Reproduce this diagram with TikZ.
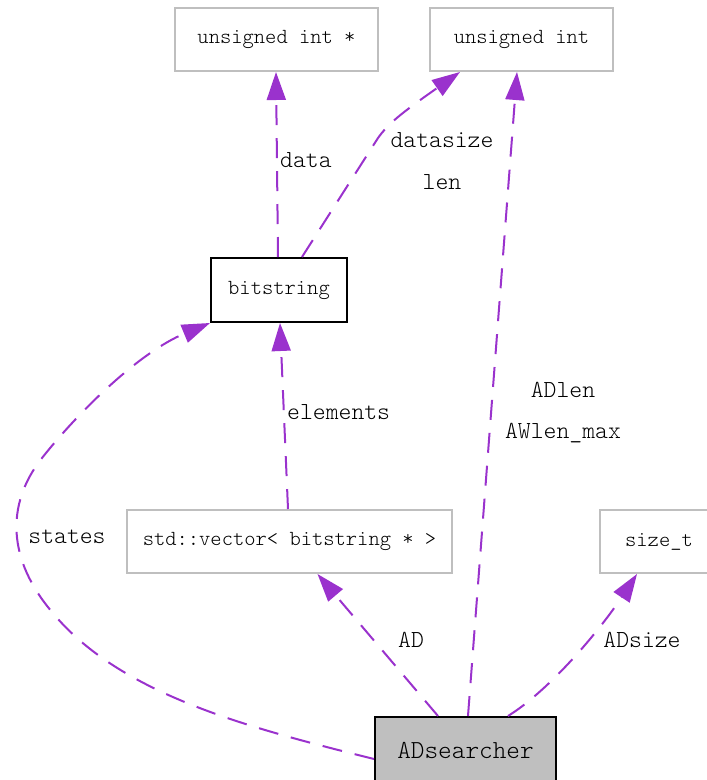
\documentclass[tikz,border=0pt]{standalone}
\usepackage{fontspec}
\newfontfamily\typefont{Latin Modern Mono Light}
\usetikzlibrary{arrows.meta}
\definecolor{edgepurple}{HTML}{9A32CD}
\definecolor{boxgray}{HTML}{BFBFBF}
\tikzset{
  typebox/.style={draw=boxgray, line width=2pt, fill=white, minimum height=63pt,
    inner sep=0pt, font=\typefont\fontsize{21.5}{21.5}\selectfont},
  classbox/.style={typebox, draw=black},
  mainbox/.style={typebox, draw=black, fill=boxgray, font=\typefont\fontsize{26}{26}\selectfont},
  relation/.style={draw=edgepurple, line width=2pt, dash pattern=on 20pt off 13pt,
    -{Triangle[length=28pt,width=19pt]}},
  elabel/.style={inner sep=0pt, font=\typefont\fontsize{24.5}{24.5}\selectfont}
}
\begin{document}
\begin{tikzpicture}[x=1pt,y=-1pt]
\useasboundingbox (0,0) rectangle (707,780);

% class and type boxes
\node[typebox, minimum width=203pt] (uintp) at (276.5,39.5) {unsigned int *};
\node[typebox, minimum width=183pt] (uint) at (521.5,39.5) {unsigned int};
\node[classbox, minimum width=136pt, minimum height=64pt] (bitstring) at (279,290) {bitstring};
\node[typebox, minimum width=325pt] (vec) at (289.5,541.5) {std::vector< bitstring * >};
\node[typebox, minimum width=118pt] (sizet) at (659,541.5) {size\_t};
\node[mainbox, minimum width=181pt, minimum height=66pt, text depth=0pt] (ads) at (465.5,750) {ADsearcher};

% bitstring members
\draw[relation] ([xshift=-1pt]bitstring.north) -- ([xshift=-0.5pt]uintp.south);
\node[elabel, anchor=west] (ldata) at (280,160) {data};

\draw[relation] ([xshift=23pt]bitstring.north) -- (378,138)
  .. controls (388,124) and (400,114) .. ([xshift=-61.5pt]uint.south);
\node[elabel] (ldatasize) at (442,140) {datasize};
\node[elabel] (llen) at (442,182) {len};

% std::vector member
\draw[relation] ([xshift=-1.5pt]vec.north) -- ([xshift=1pt]bitstring.south);
\node[elabel, anchor=west] (lelements) at (287,412) {elements};

% ADsearcher members
\draw[relation] ([xshift=2.5pt]ads.north) -- ([xshift=-4.5pt]uint.south);
\node[elabel] (ladlen) at (563,390) {ADlen};
\node[elabel] (lawlen) at (563,433) {AWlen\_max};

\draw[relation] ([yshift=-9pt]ads.west) .. controls (250,728) and (120,695) .. (52,612)
  .. controls (8,560) and (5,505) .. (42,458)
  .. controls (80,410) and (140,352) .. (bitstring.south west);
\node[elabel] (lstates) at (67,537) {states};

\draw[relation] ([xshift=-27.5pt]ads.north) -- ([xshift=28pt]vec.south);
\node[elabel] (lad) at (411,640) {AD};

\draw[relation] ([xshift=42.5pt]ads.north) .. controls (550,690) and (600,630) .. ([xshift=-22pt]sizet.south);
\node[elabel] (ladsize) at (642,640) {ADsize};
\end{tikzpicture}
\end{document}
